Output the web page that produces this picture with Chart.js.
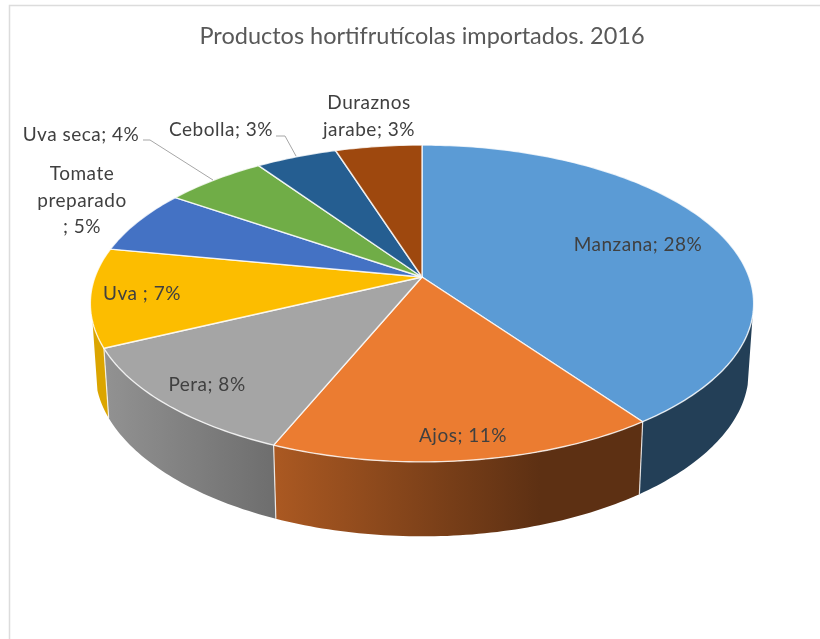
<!DOCTYPE html>
<html>
<head>
    <meta charset="utf-8">
    <style>
        body { margin: 0; background: #fff; overflow: hidden; }
        #wrap { position: relative; width: 820px; height: 639px; }
    </style>
    <script src="https://cdn.jsdelivr.net/npm/chart.js"></script>
</head>
<body>
    <div id="wrap"><canvas id="pie" width="820" height="639"></canvas></div>
    <script>
        const titleText = 'Productos hortifrutícolas importados. 2016';
        const categories = ['Manzana', 'Ajos', 'Pera', 'Uva ', 'Tomate preparado ', 'Uva seca', 'Cebolla', 'Duraznos jarabe'];
        const shares = [27.5, 11.1, 8, 6.9, 4.5, 4, 3.2, 3.4];
        const topColors = ['#5b9bd5', '#eb7c31', '#a5a5a5', '#fcbd00', '#4472c4', '#70ad47', '#255e91', '#9e480e'];

        // side wall colours: [left, right] of the gradient
        const wallColors = [['#233f57', '#233f57'], ['#ab5922', '#5d3013'], ['#929292', '#6e6e6e'], ['#dba500', '#dba500'],
            null, null, null, null];

        // label centres, and the character offsets where the label wraps
        const labelSpots = [
            { x: 638, y: 245 }, { x: 463, y: 436 }, { x: 207, y: 385 }, { x: 142, y: 294 },
            { x: 82, y: 174, wrap: [7, 17] }, { x: 81, y: 135 }, { x: 221, y: 130 }, { x: 369, y: 103, wrap: [9] }
        ];
        const leaders = [
            [[143, 140], [150, 140], [213, 180]],
            [[276, 136], [285, 136], [296, 156]]
        ];

        // perspective of the tilted disc
        const disc = { x: 422, y: 277, rx: 327, ry: 154, tilt: -0.167, depth: 74.5, sag: 6, shrink: 0.985 };
        const wallFrom = 14 * Math.PI / 180;
        const wallTo = 164 * Math.PI / 180;

        // lower = false: rim of the top face, lower = true: bottom edge of the wall
        function project(angle, lower) {
            const w = 1 + disc.tilt * Math.sin(angle);
            const c = Math.cos(angle);
            return [
                disc.x + (lower ? disc.shrink : 1) * disc.rx * c / w,
                disc.y + disc.ry * Math.sin(angle) / w + (lower ? disc.depth - disc.sag * c * c : 0)
            ];
        }

        function traceRim(ctx, a0, a1, lower) {
            const steps = Math.max(2, Math.ceil(Math.abs(a1 - a0) * 60));
            for (let i = 0; i <= steps; i++) {
                const p = project(a0 + (a1 - a0) * i / steps, lower);
                ctx.lineTo(p[0], p[1]);
            }
        }

        const tiltedPie = {
            id: 'tiltedPie',
            beforeDraw(chart) {
                const ctx = chart.ctx;
                ctx.save();
                ctx.strokeStyle = '#dcdcdc';
                ctx.lineWidth = 1.5;
                ctx.beginPath();
                ctx.moveTo(9.5, 640);
                ctx.lineTo(9.5, 5.5);
                ctx.lineTo(820, 5.5);
                ctx.stroke();
                ctx.restore();
            },
            beforeDatasetsDraw(chart) {
                const ctx = chart.ctx;
                const arcs = chart.getDatasetMeta(0).data;
                ctx.save();
                ctx.lineJoin = 'round';

                // walls
                arcs.forEach((arc, i) => {
                    const a0 = Math.max(arc.startAngle, wallFrom);
                    const a1 = Math.min(arc.endAngle, wallTo);
                    if (a1 <= a0 || !wallColors[i]) return;
                    const left = project(a1, false)[0];
                    const right = project(a0, false)[0];
                    const grad = ctx.createLinearGradient(left, 0, i === 1 ? 540 : right, 0);
                    grad.addColorStop(0, wallColors[i][0]);
                    grad.addColorStop(1, wallColors[i][1]);
                    ctx.fillStyle = grad;
                    ctx.beginPath();
                    traceRim(ctx, a0, a1, false);
                    traceRim(ctx, a1, a0, true);
                    ctx.closePath();
                    ctx.fill();
                });

                // seams between walls
                ctx.strokeStyle = 'rgba(255,255,255,0.8)';
                ctx.lineWidth = 1.2;
                arcs.forEach(arc => {
                    if (arc.endAngle <= wallFrom || arc.endAngle >= wallTo) return;
                    const p = project(arc.endAngle, false);
                    const q = project(arc.endAngle, true);
                    ctx.beginPath();
                    ctx.moveTo(p[0], p[1]);
                    ctx.lineTo(q[0], q[1]);
                    ctx.stroke();
                });

                // top face
                ctx.strokeStyle = 'rgba(255,255,255,0.8)';
                ctx.lineWidth = 1.4;
                arcs.forEach((arc, i) => {
                    ctx.fillStyle = topColors[i];
                    ctx.beginPath();
                    ctx.moveTo(disc.x, disc.y);
                    traceRim(ctx, arc.startAngle, arc.endAngle, false);
                    ctx.closePath();
                    ctx.fill();
                    ctx.stroke();
                });
                ctx.restore();
                return false;
            },
            afterDraw(chart) {
                const ctx = chart.ctx;
                ctx.save();
                ctx.strokeStyle = '#a6a6a6';
                ctx.lineWidth = 1;
                leaders.forEach(line => {
                    ctx.beginPath();
                    line.forEach(p => ctx.lineTo(p[0], p[1]));
                    ctx.stroke();
                });
                ctx.fillStyle = '#404040';
                ctx.font = '19px Lato';
                ctx.letterSpacing = '0.5px';
                ctx.textAlign = 'center';
                ctx.textBaseline = 'middle';
                categories.forEach((name, i) => {
                    const text = name + '; ' + Math.round(shares[i]) + '%';
                    const spot = labelSpots[i];
                    const cuts = [0].concat(spot.wrap || [], text.length);
                    for (let n = 0; n < cuts.length - 1; n++) {
                        ctx.fillText(text.slice(cuts[n], cuts[n + 1]).trim(), spot.x, spot.y + n * 26.5);
                    }
                });
                ctx.restore();
            }
        };

        new Chart(document.getElementById('pie'), {
            type: 'pie',
            data: {
                labels: categories,
                datasets: [{ data: shares, backgroundColor: topColors, borderColor: '#fff' }]
            },
            options: {
                responsive: false,
                animation: false,
                layout: { padding: { left: 24 } },
                plugins: {
                    legend: { display: false },
                    tooltip: { enabled: false },
                    title: {
                        display: true,
                        text: titleText,
                        color: '#595959',
                        font: { family: 'Lato', size: 23.5, weight: 'normal' },
                        padding: { top: 22, bottom: 10 }
                    }
                }
            },
            plugins: [tiltedPie]
        });
    </script>
</body>
</html>
